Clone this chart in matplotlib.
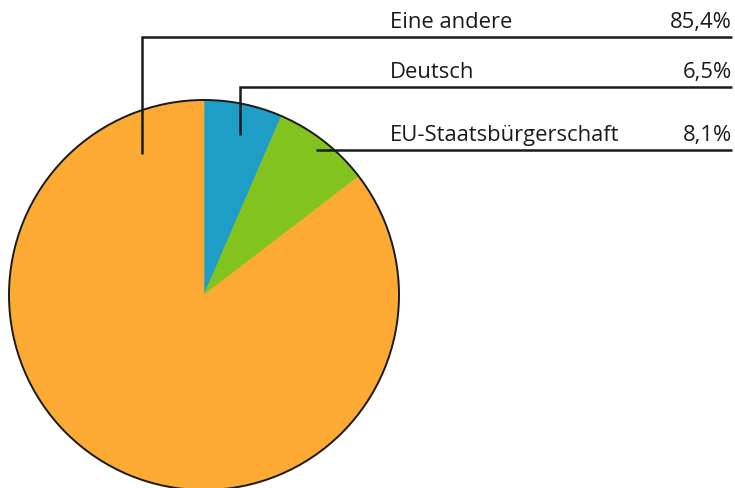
import numpy as np
import matplotlib
matplotlib.use("Agg")
import matplotlib.pyplot as plt
from matplotlib.patches import Circle

plt.rcParams['font.family'] = ['Open Sans', 'DejaVu Sans']

# Daten (im Uhrzeigersinn ab 12 Uhr)
labels = ['Deutsch', 'EU-Staatsbürgerschaft', 'Eine andere']
values = [6.5, 8.1, 85.4]
colors = ['#1e9dc7', '#83c31d', '#fcaa33']

# Legendenreihenfolge rechts oben
legend_order = ['Eine andere', 'Deutsch', 'EU-Staatsbürgerschaft']

W, H = 735, 489
fig = plt.figure(figsize=(W / 100, H / 100), dpi=100)
ax = fig.add_axes([0, 0, 1, 1])

cx, cy, R = 204, H - 296, 195
wedges, _ = ax.pie(values, colors=colors, startangle=90, counterclock=False,
                   center=(cx, cy), radius=R, frame=True,
                   wedgeprops=dict(linewidth=0))
for w in wedges:
    w.set_edgecolor(w.get_facecolor())
    w.set_linewidth(0.5)
ax.set_xlim(0, W)
ax.set_ylim(0, H)
ax.set_aspect('equal')
ax.axis('off')
ax.add_patch(Circle((cx, cy), R, fill=False, edgecolor='#1a1a1a', linewidth=1.4))

# Führungslinien: Ankerpunkt (in Pixel ab oben) und Höhe der Linie
anchors = {'Eine andere': (142, 155, 38),
           'Deutsch': (240, 136, 88),
           'EU-Staatsbürgerschaft': (316, 151, 151)}
x_text, x_right = 390, 732

for name in legend_order:
    ax_, ay_, ly = anchors[name]
    xs = [ax_, ax_, x_right]
    ys = [H - ay_, H - ly, H - ly]
    ax.plot(xs, ys, color='#1a1a1a', linewidth=1.8, solid_capstyle='butt',
            solid_joinstyle='miter')
    val = values[labels.index(name)]
    ax.text(x_text, H - ly + 5, name, fontsize=15.8, color='#1a1a1a',
            ha='left', va='bottom')
    ax.text(x_right, H - ly + 5, f'{val:.1f}%'.replace('.', ','), fontsize=15.8,
            color='#1a1a1a', ha='right', va='bottom')

fig.savefig('out.png', dpi=100)
